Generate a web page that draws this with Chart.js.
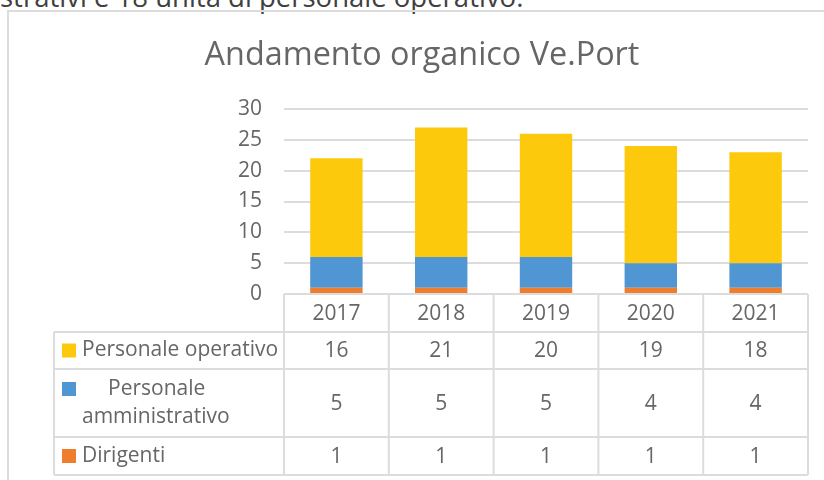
<!DOCTYPE html>
<html><head><meta charset="utf-8">
<script src="https://cdn.jsdelivr.net/npm/chart.js@4/dist/chart.umd.min.js"></script>
<style>
html,body{margin:0;padding:0;background:#fff;overflow:hidden}
#wrap{position:relative;width:824px;height:480px;overflow:hidden}
#top{position:absolute;left:0;top:-22px;font:27.5px "Open Sans";color:#404040;white-space:nowrap}
canvas{position:absolute;left:0;top:0}
</style></head>
<body><div id="wrap"><div id="top">strativi e 18 unità di personale operativo.</div><canvas id="c" width="824" height="480"></canvas></div>
<script>
const years = ['2017', '2018', '2019', '2020', '2021'];
const dirigenti = [1, 1, 1, 1, 1];
const amministrativo = [5, 5, 5, 4, 4];
const operativo = [16, 21, 20, 19, 18];
const yTicks = [0, 5, 10, 15, 20, 25, 30];
const chartTitle = 'Andamento organico Ve.Port';

const COL_OP = '#FCC90D', COL_AM = '#4F96D2', COL_DI = '#EE7D2E';
const GRID = '#DCDCDC', TXT = '#666666';
const FONT = '"Open Sans", sans-serif';
const FS = 21;

const tableRows = [
  { lines: ['Personale operativo'], color: COL_OP, data: operativo, h: 37 },
  { lines: ['Personale', 'amministrativo'], color: COL_AM, data: amministrativo, h: 68 },
  { lines: ['Dirigenti'], color: COL_DI, data: dirigenti, h: 38 }
];

const decor = {
  id: 'decor',
  afterDraw(chart) {
    const ctx = chart.ctx, a = chart.chartArea, xs = chart.scales.x;
    ctx.save();
    ctx.strokeStyle = GRID; ctx.lineWidth = 2;
    ctx.beginPath(); ctx.moveTo(8, 482); ctx.lineTo(8, 11); ctx.lineTo(826, 11); ctx.stroke();
    ctx.fillStyle = TXT; ctx.textAlign = 'center'; ctx.textBaseline = 'alphabetic';
    let fs = 30; ctx.font = fs + 'px ' + FONT;
    fs = fs * 435 / ctx.measureText(chartTitle).width;
    ctx.font = fs + 'px ' + FONT;
    ctx.fillText(chartTitle, 422, 65);
    const n = years.length;
    const cw = (a.right - a.left) / n;
    const headTop = a.bottom, headBot = a.bottom + 38;
    const tLeft = 54;
    ctx.lineWidth = 2; ctx.strokeStyle = GRID;
    ctx.beginPath();
    for (let i = 0; i <= n; i++) { const x = a.left + i * cw; ctx.moveTo(x, headTop); ctx.lineTo(x, headBot); }
    ctx.stroke();
    ctx.font = FS + 'px ' + FONT; ctx.fillStyle = TXT; ctx.textAlign = 'center'; ctx.textBaseline = 'middle';
    years.forEach((y, i) => ctx.fillText(y, xs.getPixelForValue(i), (headTop + headBot) / 2 + 1));
    let y0 = headBot;
    ctx.beginPath(); ctx.moveTo(tLeft, y0); ctx.lineTo(a.right, y0); ctx.stroke();
    tableRows.forEach(r => {
      const y1 = y0 + r.h;
      ctx.beginPath();
      ctx.moveTo(tLeft, y0); ctx.lineTo(tLeft, y1);
      for (let i = 0; i <= n; i++) { const x = a.left + i * cw; ctx.moveTo(x, y0); ctx.lineTo(x, y1); }
      ctx.moveTo(tLeft, y1); ctx.lineTo(a.right, y1);
      ctx.stroke();
      const cy = (y0 + y1) / 2;
      ctx.fillStyle = r.color;
      const ky = r.lines.length > 1 ? y0 + 20 : cy;
      ctx.fillRect(62, ky - 7, 14, 14);
      ctx.fillStyle = TXT; ctx.textAlign = 'left';
      if (r.lines.length > 1) {
        ctx.fillText(r.lines[0], 108, y0 + 20);
        ctx.fillText(r.lines[1], 82, y0 + 48);
      } else {
        ctx.fillText(r.lines[0], 82, cy);
      }
      ctx.textAlign = 'center';
      r.data.forEach((v, i) => ctx.fillText(String(v), xs.getPixelForValue(i), cy + 1));
      y0 = y1;
    });
    ctx.restore();
  }
};

new Chart(document.getElementById('c'), {
  type: 'bar',
  data: {
    labels: years,
    datasets: [
      { label: 'Dirigenti', data: dirigenti, backgroundColor: COL_DI },
      { label: 'Personale amministrativo', data: amministrativo, backgroundColor: COL_AM },
      { label: 'Personale operativo', data: operativo, backgroundColor: COL_OP }
    ]
  },
  options: {
    responsive: false, animation: false,
    layout: { autoPadding: false, padding: { top: 109, right: 16, bottom: 186, left: 0 } },
    datasets: { bar: { barPercentage: 0.5, categoryPercentage: 1 } },
    plugins: { legend: { display: false }, tooltip: { enabled: false }, title: { display: false } },
    scales: {
      x: { stacked: true, display: false },
      y: {
        stacked: true, min: 0, max: 30,
        afterFit(s) { s.width = 284; },
        afterBuildTicks(s) { s.ticks = yTicks.map(v => ({ value: v })); },
        border: { display: false },
        grid: { color: GRID, lineWidth: 2, drawTicks: false },
        ticks: { padding: 22, color: TXT, font: { family: 'Open Sans', size: FS } }
      }
    }
  },
  plugins: [decor]
});
</script>
</body></html>
